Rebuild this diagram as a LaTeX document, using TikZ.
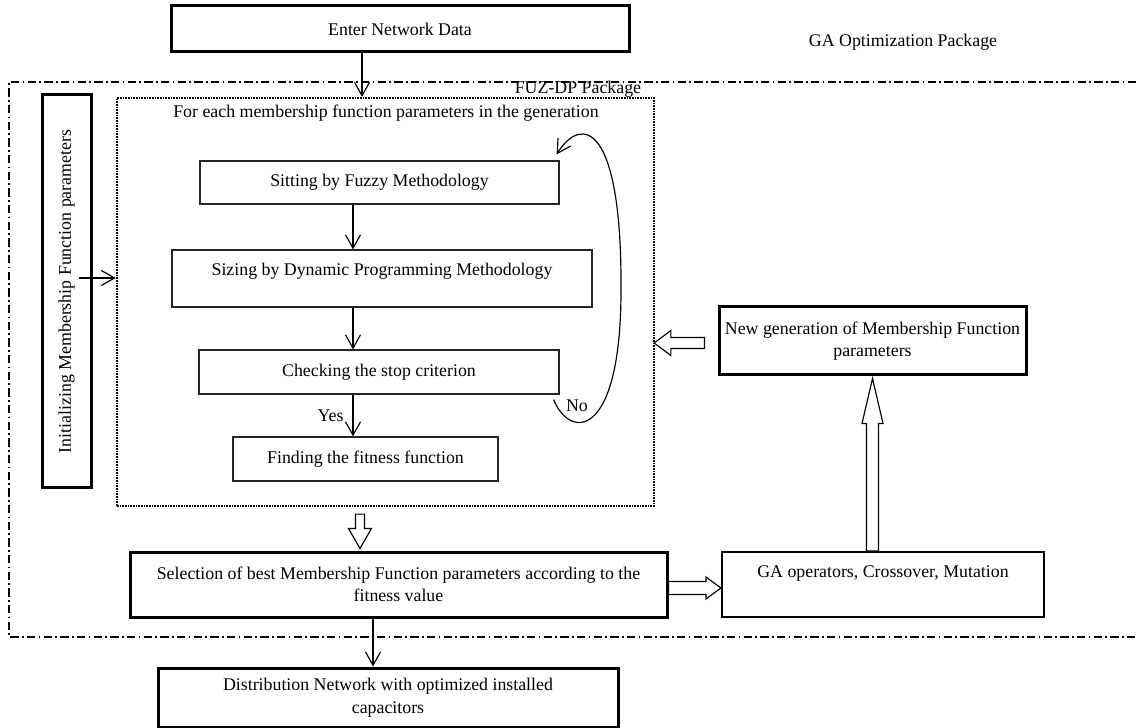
\documentclass[tikz,border=0pt]{standalone}
\usepackage{fontspec}
\setmainfont{Liberation Serif}
\usetikzlibrary{arrows.meta,positioning,calc}

\tikzset{
  box/.style={draw=black!85, line width=0.75pt, align=center, inner sep=2pt},
  boldbox/.style={box, draw=black, line width=1.8pt},
  dotbox/.style={draw, line width=1.4pt, dash pattern=on 1pt off 0.6pt},
  pkgline/.style={line width=0.8pt, dash pattern=on 5pt off 2pt on 1pt off 2pt},
  arr/.style={-{Straight Barb[length=8pt,width=9pt]}, line width=0.7pt},
  hollow/.style={draw, line width=0.7pt, fill=white, line join=miter},
}

% block arrow: start, tip, shaft half width, head half width, head length
\newcommand{\blockarrow}[5]{%
  \coordinate (ba) at (#1);
  \coordinate (bt) at (#2);
  \coordinate (bh) at ($(bt)!#5!(ba)$);
  \draw[hollow] ($(ba)!#3!90:(bt)$) -- ($(bh)!#3!90:(bt)$) -- ($(bh)!#4!90:(bt)$)
    -- (bt) -- ($(bh)!#4!-90:(bt)$) -- ($(bh)!#3!-90:(bt)$) -- ($(ba)!#3!-90:(bt)$) -- cycle;
}

\begin{document}
\begin{tikzpicture}[x=0.6pt, y=-0.6pt, font=\fontsize{10.7}{13.5}\selectfont]
    \useasboundingbox (0,0) rectangle (1136,728);

    % top and GA package frame
    \node[boldbox, minimum width=274.8pt, minimum height=27.6pt] (enter) at (400,29) {Enter Network Data};
    \node (gapkg) at (903,42) {GA Optimization Package};
    \draw[pkgline] (1136,82) -| (9,637) -- (1136,637);

    % FUZ-DP package
    \node[dotbox, minimum width=322.2pt, minimum height=244.8pt] (fuz) at (385.5,302) {};
    \node[anchor=base east] (fuzlbl) at (647,94) {FUZ-DP Package};
    \node (foreach) at (386,113) {For each membership function parameters in the generation};
    \node[box, minimum width=215.4pt, minimum height=25.8pt] (sitting) at (379.5,182.5) {Sitting by Fuzzy Methodology};
    \node[box, minimum width=252pt, minimum height=34.2pt, text height=7pt, text depth=10pt] (sizing) at (382,278.5) {Sizing by Dynamic Programming Methodology};
    \node[box, minimum width=216pt, minimum height=26.4pt] (checking) at (379,372) {Checking the stop criterion};
    \node[box, minimum width=159pt, minimum height=26.4pt] (finding) at (365.5,459) {Finding the fitness function};

    % left and right boxes
    \node[boldbox, rotate=90, minimum width=235.8pt, minimum height=29.4pt] (init) at (66.5,291.5) {Initializing Membership Function parameters};
    \node[boldbox, minimum width=184.2pt, minimum height=40.8pt] (newgen) at (872.5,341) {New generation of Membership Function\\parameters};
    \node[box, draw=black, line width=1.3pt, minimum width=193.2pt, minimum height=39pt, text height=7pt, text depth=16pt] (gaops) at (883,584.5) {GA operators, Crossover, Mutation};
    \node[boldbox, minimum width=322.2pt, minimum height=39pt] (select) at (398.5,584.5) {Selection of best Membership Function parameters according to the\\fitness value};
    \node[boldbox, minimum width=276pt, minimum height=35.4pt] (distrib) at (388,697.5) {Distribution Network with optimized installed\\capacitors};

    % arrows
    \coordinate (incol) at (362,0);
    \coordinate (col) at (353,0);
    \coordinate (outcol) at (373,0);
    \coordinate (initrow) at (0,278);
    \draw[arr] (enter.south -| incol) -- (fuz.north -| incol);
    \draw[arr] (sitting.south -| col) -- (sizing.north -| col);
    \draw[arr] (sizing.south -| col) -- (checking.north -| col);
    \draw[arr] (checking.south -| col) -- node[left=2pt] (yes) {Yes} (finding.north -| col);
    \draw[arr] ($(init.south |- initrow)+(-14,0)$) -- (fuz.west |- initrow);
    \draw[arr] (select.south -| outcol) -- (distrib.north -| outcol);

    % loop back
    \coordinate (nostart) at ($(checking.south east)+(-6,5)$);
    \coordinate (noend) at ($(sitting.north east)+(-3,-6)$);
    \draw[arr] (nostart) .. controls (570,440) and (621,440) .. (621,290)
        .. controls (622,124) and (582,114) .. (noend);
    \node (no) at (577,406) {No};

    % hollow arrows
    \coordinate (hcol) at (360,0);
    \coordinate (nrow) at (0,343);
    \coordinate (srow) at (0,588);
    \blockarrow{$(fuz.south -| hcol)+(0,7)$}{$(select.north -| hcol)+(0,-2)$}{2.7pt}{6.9pt}{12pt}
    \blockarrow{$(newgen.west |- nrow)+(-13,0)$}{$(fuz.east |- nrow)+(-1,0)$}{3.3pt}{7.5pt}{10pt}
    \blockarrow{gaops.north -| newgen.south}{$(newgen.south)+(0,2)$}{3.6pt}{6.3pt}{27pt}
    \blockarrow{select.east |- srow}{gaops.west |- srow}{3.9pt}{6.6pt}{9pt}
\end{tikzpicture}
\end{document}
